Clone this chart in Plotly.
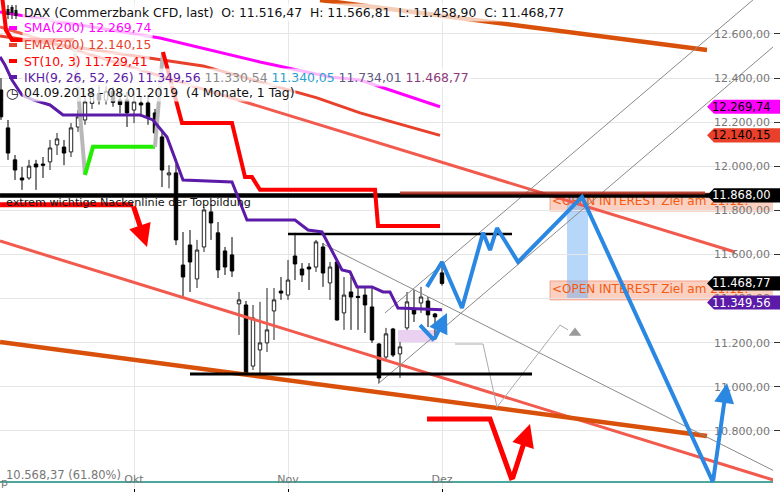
import plotly.graph_objects as go

# ---------------- DATA ----------------
# x = trading-day index (0 = 01.10.2018, 22 = 01.11.2018, 44 = 03.12.2018), y = DAX points
candle_idx = list(range(-19, 45))
candle_open = [12346, 12174, 12029, 11947, 11947, 12010, 12010, 12020, 12097, 12087,
               12065, 12178, 12210, 12285, 12330, 12300, 12340, 12300, 12301, 12255,
               12287, 12287, 12242, 12133, 11961, 11970, 11552, 11643, 11489, 11634,
               11793, 11698, 11616, 11598, 11376, 11371, 11094, 11167, 11199, 11344,
               11434, 11416, 11593, 11534, 11543, 11543, 11634, 11471, 11566, 11335,
               11430, 11410, 11416, 11362, 11194, 11135, 11262, 11149, 11267, 11348,
               11380, 11389, 11330, 11516.47]
candle_high = [12400, 12210, 12051, 11997, 12029, 12029, 12042, 12119, 12151, 12119,
               12196, 12255, 12323, 12360, 12370, 12380, 12360, 12330, 12337, 12332,
               12314, 12323, 12260, 12165, 12005, 12010, 11702, 11711, 11666, 11815,
               11825, 11747, 11634, 11679, 11430, 11389, 11371, 11385, 11448, 11448,
               11498, 11575, 11698, 11561, 11561, 11666, 11652, 11566, 11570, 11498,
               11498, 11453, 11453, 11453, 11199, 11267, 11267, 11203, 11430, 11439,
               11453, 11407, 11335, 11566.81]
candle_low = [12210, 12029, 11938, 11893, 11938, 11893, 11947, 11983, 12051, 12005,
              12042, 12156, 12188, 12260, 12280, 12280, 12270, 12240, 12178, 12196,
              12224, 12188, 12133, 11906, 11900, 11643, 11403, 11430, 11448, 11611,
              11666, 11493, 11507, 11498, 11235, 11050, 11076, 11058, 11158, 11212,
              11394, 11394, 11484, 11475, 11439, 11521, 11453, 11394, 11300, 11258,
              11258, 11258, 11244, 11199, 11017, 11122, 11135, 11040, 11258, 11294,
              11335, 11271, 11212, 11458.90]
candle_close = [12224, 12060, 11983, 11938, 12001, 11997, 12005, 12083, 12124, 12060,
                12174, 12224, 12292, 12330, 12300, 12340, 12290, 12280, 12242, 12292,
                12278, 12224, 12151, 11983, 11970, 11666, 11498, 11566, 11620, 11802,
                11743, 11530, 11543, 11525, 11394, 11058, 11312, 11199, 11258, 11394,
                11425, 11484, 11557, 11507, 11534, 11657, 11516, 11543, 11303, 11416,
                11407, 11405, 11371, 11212, 11040, 11240, 11144, 11181, 11385, 11330,
                11407, 11326, 11317, 11468.77]

x_tick_vals = [0, 22, 44]
x_tick_text = ["Okt", "Nov", "Dez"]

# indicators
sma_x = [-19.14, 3.71, 18.0, 28.0, 32.29, 43.71]
sma_y = [12700, 12582, 12473, 12405, 12391, 12269.74]
ema_x = [-19.14, 3.71, 9.86, 26.14, 32.29, 43.71]
ema_y = [12591, 12482, 12455, 12310, 12242, 12140.15]
ikh_x = [-19.14, -18.43, -17.43, -16, -14.43, -12, -10.14, 0.86, 2.71, 4.71, 7, 14, 16.14, 23,
         24.86, 26.86, 29.71, 30.86, 31.86, 34, 35.57, 36.57, 37.71, 44]
ikh_y = [12496, 12459, 12391, 12323, 12301, 12278, 12233, 12233, 12210, 12133, 11938, 11929,
         11756, 11756, 11711, 11702, 11530, 11521, 11453, 11453, 11430, 11430, 11357, 11349.56]
st_red1_x = [-18.86, -18.29, -17.43, -8.57]
st_red1_y = [12777, 12618, 12573, 12573]
st_gray1_x = [-8.57, -7]
st_gray1_y = [12573, 11961]
st_green_x = [-7, -5.86, 3]
st_green_y = [11961, 12088, 12088]
st_gray2_x = [3, 4.14]
st_gray2_y = [12088, 12518]
st_red2_x = [4.14, 6.86, 14, 15.86, 16.86, 18, 34.43, 34.86, 43.71]
st_red2_y = [12518, 12196, 12196, 11951, 11951, 11893, 11893, 11729.41, 11729.41]

# drawn trend lines
channel_up_x, channel_up_y = [-19.14, 85.86], [12632, 11611]
channel_lo_x, channel_lo_y = [-19.14, 92.29], [11661, 10568]
orange_up_x, orange_up_y = [26.57, 81.86], [12754, 12527]
orange_lo_x, orange_lo_y = [-19.14, 81.86], [11203, 10777]
gray_a_x, gray_a_y = [35.86, 92.3], [11335, 12859]
gray_b_x, gray_b_y = [34.86, 92.29], [11013, 12568]
gray_d_x, gray_d_y = [27, 92.29], [11648, 10605]
gray_zig_x = [45.86, 49.86, 51.86, 60.86, 62]
gray_zig_y = [11194, 11194, 10908, 11280, 11258]
gray_tri_x, gray_tri_y = [63], [11244]
neck_level = 11868.00
neck_x = [-19.14, 92.29]
oi_line_x, oi_line_y = [38, 81.57], [11879, 11879]
hi_line_x, hi_line_y = [22, 54], [11693, 11693]
lo_line_x, lo_line_y = [8, 56.86], [11058, 11058]
fib_level = 10568.37

blue_x = [41.86, 44, 46.86, 49.86, 50.86, 51.86, 54.86, 64, 82.71, 84.71]
blue_y = [11453, 11566, 11357, 11698, 11620, 11720, 11566, 11861, 10568, 11017]
blue_small_x = [40.86, 42.86, 44.71]
blue_small_y = [11280, 11212, 11335]
red_left_x = [-19.14, -0.14, 1.86]
red_left_y = [11825, 11825, 11634]
red_bot_x = [41.86, 50.86, 54, 56.57]
red_bot_y = [10854, 10854, 10577, 10831]

oi_boxes = [(59.43, 11879, 11797), (59.43, 11480, 11394)]
oi_text_y = [11838, 11439]
blue_rect = (61.86, 64.86, 11861, 11403)
lav_rect = (37.71, 43, 11258, 11203)

tags = [(12269.74, 12269.74, "#ff00ff", "#000000"),
        (12140.15, 12140.15, "#e8402a", "#000000"),
        (11868.00, 11868.00, "#000000", "#ffffff"),
        (11468.77, 11468.77, "#000000", "#ffffff"),
        (11349.56, 11382.00, "#5b1aa8", "#ffffff")]

# ---------------- FIGURE ----------------
X0, X1 = -19.143, 91.286
Y0, Y1 = 10541, 12754
PW, PH = 773.0, 488.0
FONT = "DejaVu Sans"


def PX(x):
    return x / PW


def PY(y):
    return 1 - y / PH


fig = go.Figure()


def line(x, y, color, width, dash=None, opacity=1.0):
    fig.add_trace(go.Scatter(x=x, y=y, mode="lines", opacity=opacity,
                             line=dict(color=color, width=width, dash=dash),
                             hoverinfo="skip"))


# OI text (clipped; tags cover them)
fig.add_trace(go.Scatter(x=[59.71, 59.71], y=oi_text_y, mode="text",
                         text=["<OPEN INTEREST Ziel am 21.12.", "<OPEN INTEREST Ziel am 21.12."],
                         textposition="middle right", cliponaxis=True,
                         textfont=dict(family=FONT, size=12, color="#f45a10"), hoverinfo="skip"))

line(neck_x, [fib_level, fib_level], "#138a7c", 1.5)
line(channel_up_x, channel_up_y, "#f25a4e", 3)
line(channel_lo_x, channel_lo_y, "#f25a4e", 3)
line(orange_up_x, orange_up_y, "#d9500a", 4.5)
line(orange_lo_x, orange_lo_y, "#d9500a", 4.5)
line(gray_a_x, gray_a_y, "#8a8a8a", 1)
line(gray_b_x, gray_b_y, "#8a8a8a", 1)
line(gray_d_x, gray_d_y, "#8a8a8a", 1)
line(gray_zig_x, gray_zig_y, "#aaaaaa", 1)
fig.add_trace(go.Scatter(x=gray_tri_x, y=gray_tri_y, mode="markers",
                         marker=dict(symbol="triangle-up", size=11, color="#9a9a9a"),
                         hoverinfo="skip"))
line(neck_x, [neck_level, neck_level], "#000000", 4.5)
line(oi_line_x, oi_line_y, "#b03020", 3, opacity=0.85)
line(hi_line_x, hi_line_y, "#000000", 2.5)
line(lo_line_x, lo_line_y, "#000000", 3)

fig.add_trace(go.Candlestick(
    x=candle_idx, open=candle_open, high=candle_high, low=candle_low, close=candle_close,
    increasing=dict(line=dict(color="#222222", width=1), fillcolor="#ffffff"),
    decreasing=dict(line=dict(color="#000000", width=1), fillcolor="#000000"),
    whiskerwidth=0, hoverinfo="skip"))

line(sma_x, sma_y, "#ff00ff", 3)
line(ema_x, ema_y, "#e8402a", 3)
line(st_red1_x, st_red1_y, "#ff0000", 4)
line(st_gray1_x, st_gray1_y, "#b8b8b8", 4)
line(st_green_x, st_green_y, "#22ee00", 4)
line(st_gray2_x, st_gray2_y, "#b8b8b8", 4)
line(st_red2_x, st_red2_y, "#ff0000", 4)
line(ikh_x, ikh_y, "#5b1aa8", 3)

line(blue_x[:-1], blue_y[:-1], "#2b88e2", 4)
line(blue_small_x[:-1], blue_small_y[:-1], "#2b88e2", 4)
line(red_left_x[:-1], red_left_y[:-1], "#ff0000", 5)
line(red_bot_x[:-1], red_bot_y[:-1], "#ff0000", 5)

shapes = []
annotations = []

# rectangles (below)
for (x0, ya, yb) in oi_boxes:
    shapes.append(dict(type="rect", xref="x", yref="y", x0=x0, x1=X1 + 1, y0=yb, y1=ya,
                       fillcolor="rgba(248,170,140,0.55)", line=dict(color="rgba(240,120,90,0.6)", width=1),
                       layer="below"))
shapes.append(dict(type="rect", xref="x", yref="y", x0=blue_rect[0], x1=blue_rect[1],
                   y0=blue_rect[3], y1=blue_rect[2], fillcolor="rgba(110,175,245,0.5)",
                   line=dict(width=0), layer="below"))
shapes.append(dict(type="rect", xref="x", yref="y", x0=lav_rect[0], x1=lav_rect[1],
                   y0=lav_rect[3], y1=lav_rect[2], fillcolor="rgba(225,190,235,0.7)",
                   line=dict(width=0), layer="below"))

# arrows
def arrow(xs, ys, color, width, size):
    annotations.append(dict(x=xs[-1], y=ys[-1], ax=xs[-2], ay=ys[-2], xref="x", yref="y",
                            axref="x", ayref="y", text="", showarrow=True, arrowhead=2,
                            arrowsize=size, arrowwidth=width, arrowcolor=color))


arrow(blue_x, blue_y, "#2b88e2", 4, 1.0)
arrow(blue_small_x, blue_small_y, "#2b88e2", 4, 1.0)
arrow(red_left_x, red_left_y, "#ff0000", 5, 0.9)
arrow(red_bot_x, red_bot_y, "#ff0000", 5, 0.9)

# value tags on the right
TAG_HALF = 32
for val, yshow, bg, fg in tags:
    path = (f"M {PX(707)},{yshow} L {PX(714)},{yshow + TAG_HALF} L {PX(781)},{yshow + TAG_HALF} "
            f"L {PX(781)},{yshow - TAG_HALF} L {PX(714)},{yshow - TAG_HALF} Z")
    shapes.append(dict(type="path", xref="paper", yref="y", path=path, fillcolor=bg,
                       line=dict(width=0), layer="above"))
    txt = f"{val:,.2f}".replace(",", "X").replace(".", ",").replace("X", ".")
    annotations.append(dict(x=PX(773), y=yshow, xref="paper", yref="y", xanchor="right",
                            yanchor="middle", text=txt, showarrow=False,
                            font=dict(family=FONT, size=11.5, color=fg)))

# legend block
BG = "rgba(255,255,255,0.72)"
rows = [
    (12, "DAX (Commerzbank CFD, last)\u00a0 O: 11.516,47\u00a0 H: 11.566,81\u00a0 L: 11.458,90\u00a0 C: 11.468,77", "#111111"),
    (28, "SMA(200) 12.269,74", "#ff00ff"),
    (45, "EMA(200) 12.140,15", "#e8402a"),
    (61, "ST(10, 3) 11.729,41", "#ff0000"),
    (77, "IKH(9, 26, 52, 26) 11.349,56 <span style='color:#888888'>11.330,54</span> "
         "<span style='color:#2a9fd0'>11.340,05</span> <span style='color:#5c5a80'>11.734,01</span> "
         "<span style='color:#8b3a7a'>11.468,77</span>", "#5b1aa8"),
    (93, "04.09.2018 - 08.01.2019\u00a0 (4 Monate, 1 Tag)", "#111111"),
]
for y, txt, col in rows:
    annotations.append(dict(x=PX(22), y=PY(y), xref="paper", yref="paper", xanchor="left",
                            yanchor="middle", text=txt, showarrow=False, bgcolor=BG, borderpad=1,
                            font=dict(family=FONT, size=12.4, color=col)))
for y, col in [(28, "#ff00ff"), (45, "#e8402a"), (61, "#ff0000"), (77, "#5b1aa8")]:
    shapes.append(dict(type="line", xref="paper", yref="paper", x0=PX(9), x1=PX(17),
                       y0=PY(y), y1=PY(y), line=dict(color=col, width=4), layer="above"))
# candle icon
for cx, b0, b1 in [(8, 9, 15), (12, 7, 13), (16, 10, 16)]:
    shapes.append(dict(type="line", xref="paper", yref="paper", x0=PX(cx), x1=PX(cx),
                       y0=PY(5), y1=PY(19), line=dict(color="#111", width=1), layer="above"))
    shapes.append(dict(type="rect", xref="paper", yref="paper", x0=PX(cx - 1.5), x1=PX(cx + 1.5),
                       y0=PY(b1), y1=PY(b0), fillcolor="#111", line=dict(width=0), layer="above"))
annotations.append(dict(x=PX(4), y=PY(93), xref="paper", yref="paper", xanchor="left",
                        yanchor="middle", text="◷", showarrow=False,
                        font=dict(family=FONT, size=14, color="#111")))

annotations.append(dict(x=PX(4), y=PY(203), xref="paper", yref="paper", xanchor="left",
                        yanchor="middle", text="extrem wichtige Nackenlinie der Topbildung",
                        showarrow=False, font=dict(family=FONT, size=11.2, color="#111111")))
annotations.append(dict(x=PX(4), y=PY(475), xref="paper", yref="paper", xanchor="left",
                        yanchor="middle", text="10.568,37 (61.80%)", showarrow=False,
                        font=dict(family=FONT, size=11.5, color="#777777")))
annotations.append(dict(x=PX(-1), y=PY(482), xref="paper", yref="paper", xanchor="left",
                        yanchor="middle", text="p", showarrow=False,
                        font=dict(family=FONT, size=11, color="#777777")))

fig.update_layout(
    width=780, height=492,
    margin=dict(l=0, r=7, t=0, b=4, autoexpand=False),
    paper_bgcolor="white", plot_bgcolor="white", showlegend=False,
    separators=",.",
    font=dict(family=FONT, size=11, color="#777777"),
    shapes=shapes, annotations=annotations,
    xaxis=dict(range=[X0, X1], tickvals=x_tick_vals, ticktext=x_tick_text,
               ticks="outside", ticklen=4, tickcolor="#000000", ticklabelposition="inside",
               showgrid=True, gridcolor="#e6e6e6", zeroline=False, showline=False,
               rangeslider=dict(visible=False), automargin=False,
               tickfont=dict(family=FONT, size=11, color="#777777")),
    yaxis=dict(side="right", range=[Y0, Y1], tick0=10600, dtick=200, tickformat=",.2f",
               ticks="outside", ticklen=6, tickcolor="#333333", ticklabelposition="inside",
               showgrid=True, gridcolor="#e6e6e6", zeroline=False, showline=False,
               automargin=False, tickfont=dict(family=FONT, size=11, color="#777777")),
)

fig.write_html("out.html", config={"displayModeBar": False},
               post_script="document.body.style.margin='0';document.body.style.overflow='hidden';")
